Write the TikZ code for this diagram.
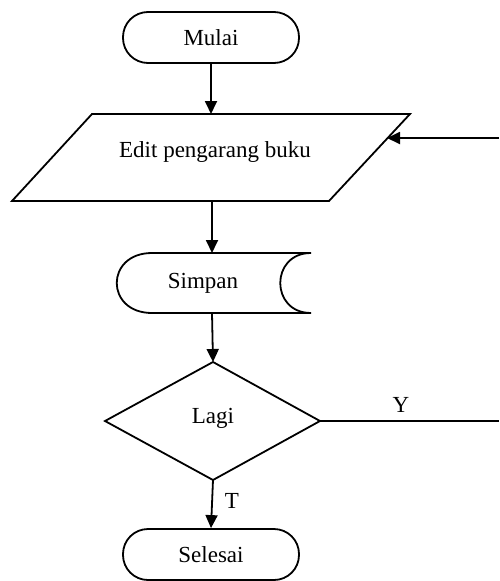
\documentclass[tikz,border=0pt]{standalone}
\usepackage{fontspec}
\setmainfont{Liberation Serif}
\usetikzlibrary{arrows.meta}
\begin{document}
\begin{tikzpicture}[x=1pt,y=-1pt,
  line width=1.8pt,
  txt/.style={font=\fontsize{23}{27}\selectfont, inner sep=0pt},
  term/.style={draw, rounded corners=25pt, minimum width=176pt, minimum height=51pt, font=\fontsize{23}{27}\selectfont},
  flow/.style={-{Triangle[length=13pt,width=12pt]}},
  plain/.style={-}]
\useasboundingbox (0,0) rectangle (499,581);
% terminals
\node[term] (mulai) at (211,37.5) {Mulai};
\node[term] (selesai) at (211,554.5) {Selesai};
% parallelogram
\coordinate (pTL) at (92,114);
\coordinate (pTR) at (410,114);
\coordinate (pBR) at (329,201);
\coordinate (pBL) at (12,201);
\draw[line join=miter] (pTL) -- (pTR) -- (pBR) -- (pBL) -- cycle;
\node[txt] (edit) at (215,152) {Edit pengarang buku};
\coordinate (pTop) at (211,114);
\coordinate (pBot) at (212,201);
\coordinate (pRight) at (387,138);
% stored data
\coordinate (sTop) at (212,253);
\coordinate (sBot) at (212,313);
\draw (152,253) -- (311,253) .. controls (270,253) and (270,313) .. (311,313) -- (152,313) .. controls (105,313) and (105,253) .. (152,253) -- cycle;
\node[txt] (simpan) at (203,283) {Simpan};
% decision
\coordinate (dT) at (213,362);
\coordinate (dR) at (320,421);
\coordinate (dB) at (213,480);
\coordinate (dL) at (105,421);
\draw[line join=miter] (dT) -- (dR) -- (dB) -- (dL) -- cycle;
\node[txt] (lagi) at (213,418) {Lagi};
% free ends
\coordinate (yEnd) at (499,421);
\coordinate (fbStart) at (499,138);
% connectors
\draw[flow] (mulai.south) -- (pTop);
\draw[flow] (pBot) -- (sTop);
\draw[flow] (sBot) -- (dT);
\draw[flow] (dB) -- (selesai.north);
\draw[plain] (dR) -- (yEnd);
\draw[flow] (fbStart) -- (pRight);
% labels
\node[txt] (ylab) at (401,405) {Y};
\node[txt] (tlab) at (232,501) {T};
\end{tikzpicture}
\end{document}
